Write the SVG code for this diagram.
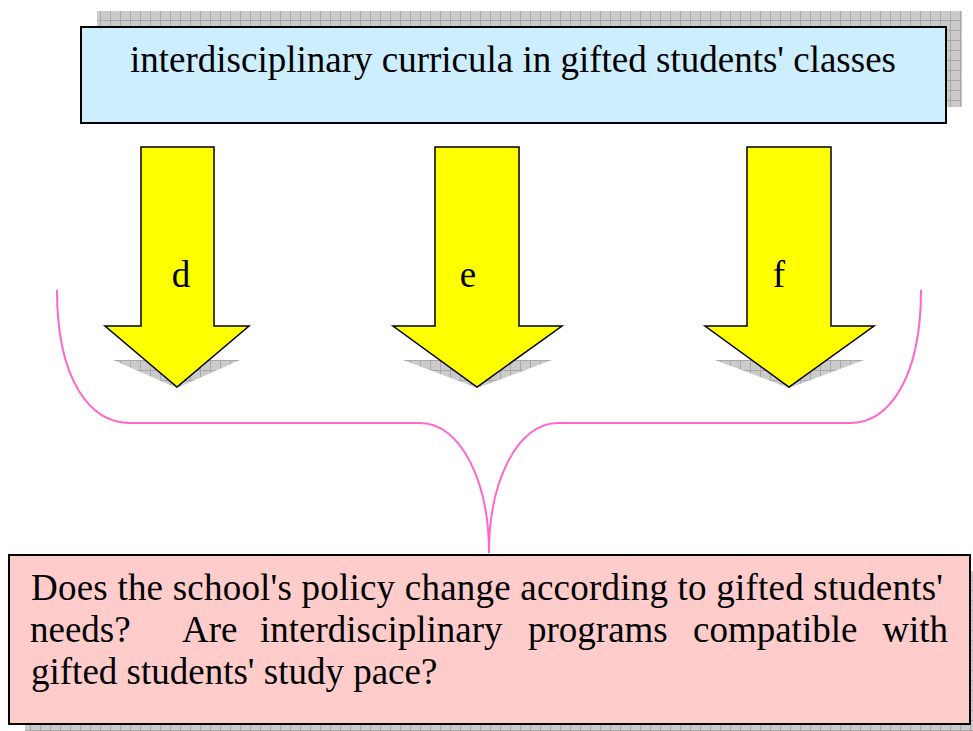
<svg xmlns="http://www.w3.org/2000/svg" width="973" height="731" viewBox="0 0 973 731">
  <defs>
    <pattern id="hatch" width="10" height="10" patternUnits="userSpaceOnUse">
      <rect width="10" height="10" fill="#cbcbcb"/>
      <path d="M0,0.5 H10 M0.5,0 V10" stroke="#a8a8a8" stroke-width="1" fill="none"/>
    </pattern>
  </defs>
  <style>
    .arrow { fill: #ffff00; stroke: #000; stroke-width: 1.5; stroke-linejoin: miter; }
    .shadow { fill: url(#hatch); }
    .brace { fill: none; stroke: #ff66cc; stroke-width: 2; }
    .box { stroke: #000; stroke-width: 2; }
    text { font-family: "Liberation Serif", "Times New Roman", serif; font-size: 37px; fill: #000; }
  </style>
  <rect width="973" height="731" fill="#ffffff"/>

  <g id="top-box">
    <rect class="shadow" x="97" y="11" width="865" height="96"/>
    <rect class="box" x="81" y="27" width="865" height="96" fill="#cceeff"/>
    <text x="513" y="72" text-anchor="middle">interdisciplinary curricula in gifted students' classes</text>
  </g>

  <g id="arrow-d">
    <polygon class="shadow" points="113,360 240,360 177,388"/>
    <polygon class="arrow" points="141,147 214,147 214,326 249,326 177,387 105,326 141,326"/>
    <text x="181" y="287" text-anchor="middle">d</text>
  </g>
  <g id="arrow-e">
    <polygon class="shadow" points="403,360 552,360 477,388"/>
    <polygon class="arrow" points="435,147 519,147 519,326 562,326 477,387 393,326 435,326"/>
    <text x="468" y="287" text-anchor="middle">e</text>
  </g>
  <g id="arrow-f">
    <polygon class="shadow" points="715,360 864,360 789,388"/>
    <polygon class="arrow" points="747,147 831,147 831,326 874,326 789,387 705,326 747,326"/>
    <text x="779" y="287" text-anchor="middle">f</text>
  </g>

  <g id="connectors">
    <path class="brace" d="M57,290 C57,380 90,423 130,423 L420,423 C460,423 489,480 489,553"/>
    <path class="brace" d="M921,290 C921,380 888,423 850,423 L558,423 C518,423 489,480 489,553"/>
  </g>

  <g id="bottom-box">
    <rect class="shadow" x="25" y="571" width="961" height="169"/>
    <rect class="box" x="9" y="555" width="961" height="169" fill="#ffcccc"/>
    <text x="31" y="600" textLength="912" lengthAdjust="spacing">Does the school's policy change according to gifted students'</text>
    <text y="642"><tspan x="30">needs?</tspan><tspan x="182">Are</tspan><tspan x="260">interdisciplinary</tspan><tspan x="528">programs</tspan><tspan x="693">compatible</tspan></text>
    <text x="948" y="642" text-anchor="end">with</text>
    <text x="31" y="684">gifted students' study pace?</text>
  </g>
</svg>
